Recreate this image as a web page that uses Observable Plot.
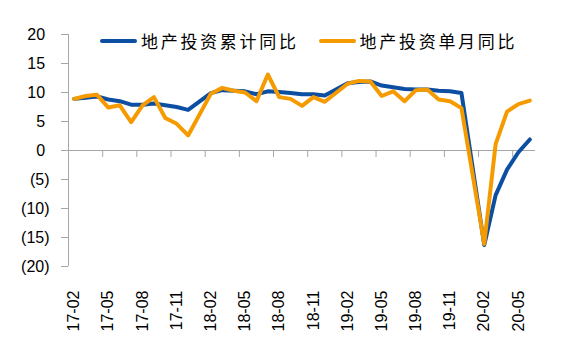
<!DOCTYPE html>
<html><head><meta charset="utf-8">
<script src="https://cdn.jsdelivr.net/npm/d3@7"></script>
<script src="https://cdn.jsdelivr.net/npm/@observablehq/plot@0.6"></script>
<style>
body{margin:0;background:#fff;}
#wrap{position:relative;width:567px;height:356px;}
#legend{position:absolute;left:100px;top:28px;display:flex;align-items:center;font-family:"Noto Sans CJK SC";font-size:17px;letter-spacing:2.7px;color:#000;white-space:nowrap;}
#legend .item{display:flex;align-items:center;margin-right:20px;}
#legend .sw{display:inline-block;width:37px;height:4px;margin-right:4px;border-radius:2px;}
</style></head><body><div id="wrap"><div id="legend"></div></div>
<script>
const months = ["17-02","17-03","17-04","17-05","17-06","17-07","17-08","17-09","17-10","17-11","17-12",
  "18-02","18-03","18-04","18-05","18-06","18-07","18-08","18-09","18-10","18-11","18-12",
  "19-02","19-03","19-04","19-05","19-06","19-07","19-08","19-09","19-10","19-11","19-12",
  "20-02","20-03","20-04","20-05","20-06"];
const cumulative = [8.9,9.1,9.3,8.8,8.5,7.9,7.9,8.1,7.8,7.5,7.0,
  9.9,10.4,10.3,10.2,9.7,10.2,10.1,9.9,9.7,9.7,9.5,
  11.6,11.8,11.9,11.2,10.9,10.6,10.5,10.5,10.3,10.2,9.9,
  -16.3,-7.7,-3.3,-0.3,1.9];
const monthly = [8.9,9.4,9.6,7.4,7.8,4.9,7.8,9.2,5.6,4.6,2.6,
  9.8,10.8,10.3,10.0,8.5,13.1,9.2,8.9,7.7,9.2,8.4,
  11.5,12.0,11.9,9.4,10.2,8.5,10.4,10.5,8.8,8.5,7.3,
  -16.1,1.1,6.7,8.0,8.6];
const seriesNames = ["地产投资累计同比","地产投资单月同比"];
const colors = ["#0b4ea2","#f59b00"];
const tickLabels = ["17-02","17-05","17-08","17-11","18-02","18-05","18-08","18-11","19-02","19-05","19-08","19-11","20-02","20-05"];
const yTicks = [20,15,10,5,0,-5,-10,-15,-20];
const totalMonths = 41;

const idx = m => { const [y, mo] = m.split("-").map(Number); return (y - 17) * 12 + mo - 2; };
const data = [];
months.forEach((m, i) => {
  data.push({x: idx(m) + 0.5, v: cumulative[i], s: seriesNames[0]});
});
months.forEach((m, i) => {
  data.push({x: idx(m) + 0.5, v: monthly[i], s: seriesNames[1]});
});
const labelPos = tickLabels.map(m => idx(m) + 0.5);
const labelMap = new Map(labelPos.map((p, i) => [p, tickLabels[i]]));
const boundaries = tickLabels.map(m => idx(m));
const fmt = d => d < 0 ? `(${-d})` : `${d}\u00a0`;

const plot = Plot.plot({
  width: 567, height: 356,
  marginLeft: 68, marginRight: 32, marginTop: 34, marginBottom: 90,
  style: {fontFamily: "Liberation Sans", fontSize: "16px", color: "#000", background: "#fff"},
  x: {domain: [0, totalMonths], label: null},
  y: {domain: [-20, 20], label: null},
  color: {domain: seriesNames, range: colors},
  marks: [
    Plot.axisY(yTicks, {tickSize: 7, text: null, stroke: "#a6a6a6", label: null}),
    Plot.axisY(yTicks, {tickSize: 0, tickPadding: 19, tickFormat: fmt, fill: "#000", label: null}),
    Plot.ruleX([0], {stroke: "#a6a6a6"}),
    Plot.ruleY([0], {stroke: "#a6a6a6"}),
    Plot.ruleX(boundaries, {y1: 0, y2: 0, insetBottom: -7, stroke: "#a6a6a6"}),
    Plot.axisX(labelPos, {tickSize: 0, tickPadding: 24, tickRotate: -90, textAnchor: "end", tickFormat: d => labelMap.get(d), fill: "#000", label: null}),
    Plot.line(data, {x: "x", y: "v", z: "s", stroke: "s", strokeWidth: 4, strokeLinejoin: "round", strokeLinecap: "round"})
  ]
});
document.getElementById("wrap").prepend(plot);
const legend = document.getElementById("legend");
seriesNames.forEach((n, i) => {
  const it = document.createElement("span");
  it.className = "item";
  const sw = document.createElement("span");
  sw.className = "sw";
  sw.style.background = colors[i];
  it.appendChild(sw);
  it.appendChild(document.createTextNode(n));
  legend.appendChild(it);
});
</script></body></html>
